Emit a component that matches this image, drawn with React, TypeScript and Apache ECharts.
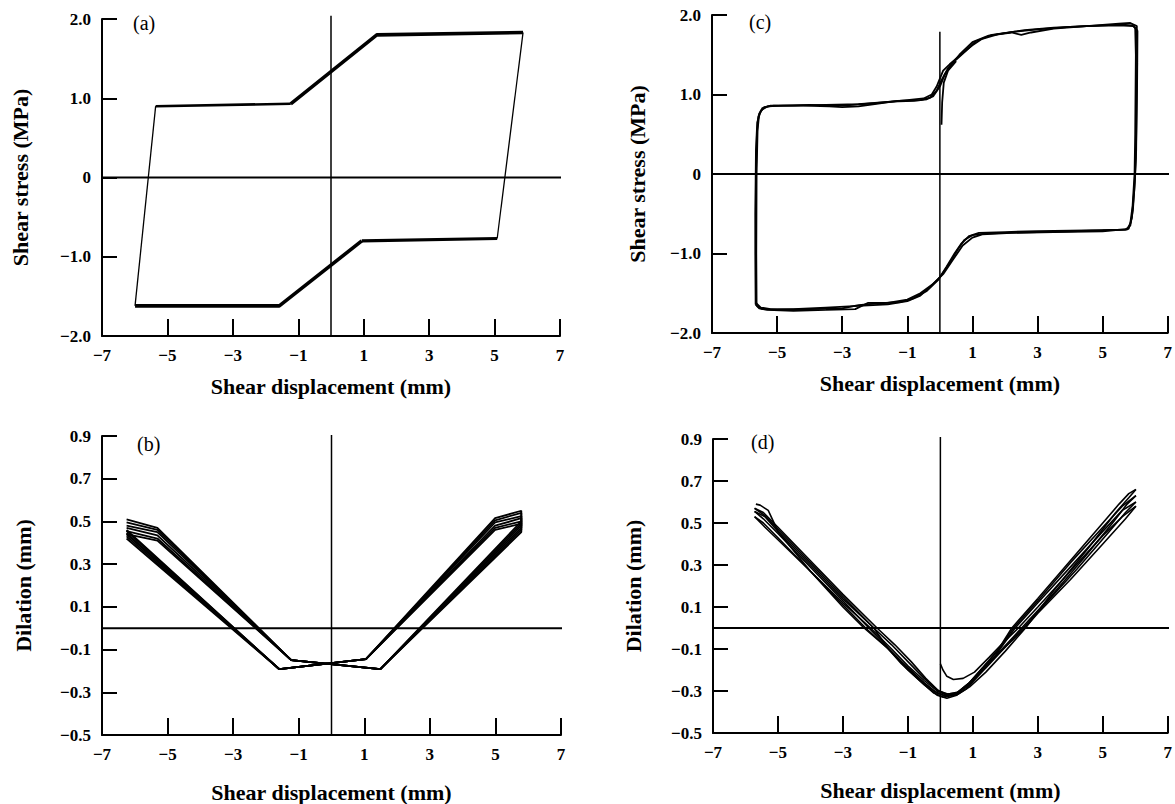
import React, { useEffect, useRef } from "react";
import * as echarts from "echarts";

// ---------- tick labels / axes ----------
const xTicks = [-7, -5, -3, -1, 1, 3, 5, 7];
const stressTicks = [-2, -1, 0, 1, 2];
const dilationTicks = [-0.5, -0.3, -0.1, 0.1, 0.3, 0.5, 0.7, 0.9];
const panelLabels = ["(a)", "(c)", "(b)", "(d)"];
const xName = "Shear displacement (mm)";
const stressName = "Shear stress (MPa)";
const dilationName = "Dilation (mm)";

// ---------- panel (a): idealised stress loop ----------
const aUpperLeft = [[-5.36, 0.9], [-1.23, 0.93]];
const aUpperRight = [[-1.23, 0.93], [1.4, 1.8], [5.87, 1.83]];
const aRightReversal = [[5.87, 1.83], [5.08, -0.77]];
const aLowerRight = [[5.08, -0.77], [0.94, -0.8]];
const aLowerLeft = [[0.94, -0.8], [-1.58, -1.62], [-5.99, -1.62]];
const aLeftReversal = [[-5.99, -1.62], [-5.36, 0.9]];

// ---------- panel (c): measured stress loops ----------
const cInitial = [[0.05, 0.62], [0.07, 0.9], [0.12, 1.15], [0.25, 1.3], [0.5, 1.42]];
const cLoop1 = [[-5.65,-1.62],[-5.66,-1.0],[-5.65,0.0],[-5.62,0.5],[-5.58,0.72],[-5.45,0.83],[-5.2,0.86],[-4.5,0.86],[-3.5,0.87],[-2.5,0.88],[-1.5,0.91],[-0.8,0.92],[-0.4,0.94],[-0.2,0.98],[0.0,1.1],[0.15,1.25],[0.4,1.4],[0.8,1.55],[1.1,1.67],[1.6,1.75],[2.3,1.79],[3.0,1.82],[4.0,1.85],[5.0,1.87],[5.6,1.88],[5.9,1.87],[6.0,1.84],[6.02,1.5],[6.0,0.5],[5.98,0.0],[5.92,-0.4],[5.85,-0.62],[5.75,-0.7],[5.0,-0.71],[4.0,-0.72],[3.0,-0.73],[2.0,-0.74],[1.4,-0.75],[1.0,-0.77],[0.75,-0.83],[0.55,-0.95],[0.3,-1.12],[0.0,-1.3],[-0.3,-1.42],[-0.6,-1.53],[-1.0,-1.6],[-1.6,-1.64],[-2.5,-1.66],[-3.5,-1.68],[-4.5,-1.7],[-5.2,-1.7],[-5.5,-1.68],[-5.65,-1.62]];
const cLoop2 = [[-5.63,-1.66],[-5.64,-1.0],[-5.63,0.0],[-5.6,0.55],[-5.55,0.76],[-5.4,0.84],[-5.1,0.86],[-4.2,0.86],[-3.4,0.85],[-3.0,0.84],[-2.5,0.85],[-2.0,0.88],[-1.3,0.92],[-0.6,0.93],[-0.3,0.96],[-0.1,1.05],[0.05,1.18],[0.25,1.33],[0.6,1.5],[1.0,1.66],[1.5,1.74],[2.2,1.78],[2.5,1.75],[2.8,1.78],[3.5,1.83],[4.5,1.86],[5.5,1.89],[5.85,1.9],[6.05,1.86],[6.06,1.4],[6.03,0.3],[5.99,-0.1],[5.93,-0.45],[5.85,-0.65],[5.7,-0.7],[4.5,-0.71],[3.0,-0.72],[2.0,-0.73],[1.2,-0.74],[0.9,-0.78],[0.65,-0.88],[0.45,-1.0],[0.2,-1.17],[-0.05,-1.33],[-0.4,-1.47],[-0.8,-1.56],[-1.2,-1.61],[-2.0,-1.63],[-2.5,-1.65],[-3.0,-1.69],[-4.0,-1.7],[-5.0,-1.71],[-5.45,-1.7],[-5.63,-1.66]];
const cLoop3 = [[-5.66,-1.64],[-5.67,-0.5],[-5.65,0.3],[-5.61,0.65],[-5.5,0.8],[-5.3,0.85],[-4.8,0.86],[-4.0,0.87],[-3.0,0.86],[-2.0,0.89],[-1.0,0.93],[-0.5,0.95],[-0.25,1.0],[-0.1,1.1],[0.1,1.3],[0.3,1.38],[0.7,1.52],[1.0,1.62],[1.3,1.7],[1.8,1.76],[2.6,1.81],[3.5,1.84],[4.5,1.86],[5.5,1.87],[5.95,1.86],[6.07,1.8],[6.06,1.2],[6.02,0.2],[5.97,-0.2],[5.9,-0.55],[5.8,-0.69],[5.0,-0.72],[3.5,-0.73],[2.2,-0.74],[1.3,-0.76],[1.0,-0.8],[0.7,-0.9],[0.4,-1.08],[0.1,-1.26],[-0.2,-1.38],[-0.6,-1.5],[-1.0,-1.58],[-1.6,-1.62],[-2.2,-1.62],[-2.6,-1.7],[-3.5,-1.71],[-4.5,-1.72],[-5.3,-1.71],[-5.55,-1.69],[-5.66,-1.64]];

// ---------- panel (b): idealised dilation cycles ----------
// each cycle: path A (left end -> right end) then path B (right end -> left end)
const bCycle1 = [[-6.25,0.42],[-1.59,-0.192],[1.05,-0.145],[4.99,0.46],[5.79,0.49],[5.79,0.45],[1.49,-0.192],[-1.23,-0.149],[-5.31,0.41],[-6.25,0.44]];
const bCycle2 = [[-6.25,0.43],[-1.59,-0.192],[1.05,-0.145],[4.99,0.47],[5.79,0.5],[5.79,0.46],[1.49,-0.192],[-1.23,-0.149],[-5.31,0.42],[-6.25,0.455]];
const bCycle3 = [[-6.25,0.44],[-1.59,-0.192],[1.05,-0.145],[4.99,0.48],[5.79,0.515],[5.79,0.47],[1.49,-0.192],[-1.23,-0.149],[-5.31,0.435],[-6.25,0.47]];
const bCycle4 = [[-6.25,0.445],[-1.59,-0.192],[1.05,-0.145],[4.99,0.495],[5.79,0.525],[5.79,0.48],[1.49,-0.192],[-1.23,-0.149],[-5.31,0.45],[-6.25,0.48]];
const bCycle5 = [[-6.25,0.455],[-1.59,-0.192],[1.05,-0.145],[4.99,0.505],[5.79,0.54],[5.79,0.49],[1.49,-0.192],[-1.23,-0.149],[-5.31,0.46],[-6.25,0.495]];
const bCycle6 = [[-6.25,0.46],[-1.59,-0.192],[1.05,-0.145],[4.99,0.515],[5.79,0.55],[5.79,0.5],[1.49,-0.192],[-1.23,-0.149],[-5.31,0.47],[-6.25,0.51]];

// ---------- panel (d): measured dilation cycles ----------
const dInitial = [[0.0,-0.17],[0.08,-0.2],[0.2,-0.23],[0.4,-0.245],[0.7,-0.24],[1.05,-0.21],[1.5,-0.14],[2.0,-0.06],[2.4,0.0],[3.0,0.1],[4.0,0.27],[5.0,0.44],[5.6,0.53],[6.02,0.58]];
const dBack1 = [[6.02,0.58],[5.7,0.52],[5.0,0.4],[4.0,0.23],[3.0,0.07],[2.6,0.0],[2.0,-0.09],[1.4,-0.19],[0.9,-0.27],[0.5,-0.315],[0.2,-0.325],[-0.1,-0.31],[-0.5,-0.26],[-1.0,-0.19],[-1.6,-0.1],[-2.3,0.0],[-3.0,0.11],[-4.0,0.27],[-5.0,0.42],[-5.4,0.48],[-5.72,0.53]];
const dFwd1 = [[-5.72,0.53],[-5.45,0.5],[-5.0,0.43],[-4.0,0.27],[-3.0,0.12],[-2.15,0.0],[-1.5,-0.1],[-1.0,-0.18],[-0.5,-0.25],[-0.1,-0.3],[0.2,-0.32],[0.5,-0.32],[0.8,-0.29],[1.2,-0.22],[1.7,-0.13],[2.3,0.0],[3.0,0.12],[4.0,0.29],[5.0,0.46],[5.6,0.56],[6.02,0.6]];
const dBack2 = [[6.02,0.6],[5.7,0.55],[5.2,0.46],[4.2,0.28],[3.2,0.11],[2.55,0.0],[2.0,-0.09],[1.4,-0.18],[0.9,-0.26],[0.5,-0.31],[0.15,-0.325],[-0.2,-0.3],[-0.6,-0.25],[-1.2,-0.16],[-1.7,-0.08],[-2.2,0.0],[-3.0,0.13],[-4.0,0.29],[-5.0,0.45],[-5.45,0.52],[-5.72,0.555]];
const dFwd2 = [[-5.72,0.555],[-5.4,0.53],[-5.0,0.46],[-4.0,0.3],[-3.0,0.14],[-2.05,0.0],[-1.5,-0.08],[-1.0,-0.16],[-0.5,-0.24],[-0.1,-0.295],[0.2,-0.315],[0.5,-0.31],[0.9,-0.26],[1.3,-0.19],[1.8,-0.1],[2.25,0.0],[3.0,0.13],[4.0,0.31],[5.0,0.48],[5.6,0.58],[6.02,0.63]];
const dBack3 = [[6.02,0.63],[5.75,0.59],[5.3,0.5],[4.4,0.33],[3.4,0.15],[2.5,0.0],[1.9,-0.1],[1.3,-0.2],[0.8,-0.28],[0.4,-0.32],[0.1,-0.33],[-0.2,-0.31],[-0.6,-0.255],[-1.2,-0.17],[-1.6,-0.1],[-2.05,0.0],[-3.0,0.15],[-4.0,0.31],[-5.0,0.47],[-5.4,0.535],[-5.72,0.57]];
const dFwd3 = [[-5.72,0.57],[-5.45,0.55],[-5.0,0.48],[-4.0,0.32],[-3.0,0.16],[-1.95,0.0],[-1.4,-0.08],[-0.9,-0.16],[-0.45,-0.24],[-0.05,-0.3],[0.25,-0.315],[0.55,-0.305],[0.9,-0.26],[1.3,-0.19],[1.75,-0.11],[2.2,0.0],[3.0,0.14],[4.0,0.32],[5.0,0.5],[5.5,0.59],[5.8,0.64],[6.02,0.66]];
const dBack4 = [[6.02,0.66],[5.8,0.62],[5.4,0.55],[4.5,0.37],[3.5,0.18],[2.62,0.0],[2.0,-0.11],[1.4,-0.21],[0.9,-0.28],[0.5,-0.32],[0.2,-0.335],[-0.1,-0.32],[-0.5,-0.27],[-1.0,-0.2],[-1.6,-0.1],[-2.35,0.0],[-3.0,0.1],[-4.0,0.27],[-5.0,0.46],[-5.3,0.56],[-5.55,0.585],[-5.68,0.59]];

// reference lines (zero axes drawn inside each panel)
const stressZeroLine = [[-7, 0], [7.05, 0]];
const dilationZeroLine = [[-7, 0], [7.05, 0]];
const stressVertA = [[0, -2], [0, 2.04]];
const stressVertC = [[0, -2], [0, 1.79]];
const dilationVertB = [[0, -0.5], [0, 0.905]];
const dilationVertD = [[0, -0.5], [0, 0.91]];

const SERIF = '"Liberation Serif", "DejaVu Serif", serif';
const MINUS = "\u2212";

function fmtX(v: number) {
  const r = Math.round(v);
  return r < 0 ? MINUS + Math.abs(r) : String(r);
}
function fmtStress(v: number) {
  const r = Math.round(v * 10) / 10;
  if (r === 0) return "0";
  return (r < 0 ? MINUS : "") + Math.abs(r).toFixed(1);
}
function fmtDil(v: number) {
  const r = Math.round(v * 10) / 10;
  return (r < 0 ? MINUS : "") + Math.abs(r).toFixed(1);
}

function ln(data: number[][], gi: number, width: number) {
  return {
    type: "line",
    xAxisIndex: gi,
    yAxisIndex: gi,
    data,
    showSymbol: false,
    symbol: "none",
    silent: true,
    clip: false,
    lineStyle: { color: "#000", width },
  };
}

export default function App() {
  const ref = useRef<HTMLDivElement>(null);

  useEffect(() => {
    document.body.style.margin = "0";
    const chart = echarts.init(ref.current!, null, { renderer: "svg" });

    const grids = [
      { left: 102, top: 19, width: 458, height: 317 },
      { left: 712, top: 15, width: 458, height: 318 },
      { left: 102, top: 436, width: 459, height: 299 },
      { left: 713, top: 439, width: 457, height: 294 },
    ];

    const axisLine = { show: true, onZero: false, lineStyle: { color: "#000", width: 2 } };
    const tickLabel = { fontFamily: SERIF, fontWeight: "bold", fontSize: 17, color: "#000" };
    const nameStyle = { fontFamily: SERIF, fontWeight: "bold", fontSize: 22, color: "#000" };

    const xAxes = grids.map((_, i) => ({
      type: "value",
      gridIndex: i,
      min: xTicks[0],
      max: xTicks[xTicks.length - 1],
      interval: 2,
      axisLine,
      axisTick: { show: true, inside: true, length: 17, lineStyle: { color: "#000", width: 2 } },
      axisLabel: { ...tickLabel, margin: 11, formatter: fmtX, showMinLabel: true, showMaxLabel: true },
      splitLine: { show: false },
      name: xName,
      nameLocation: "middle",
      nameGap: i < 2 ? 39 : 46,
      nameTextStyle: nameStyle,
    }));

    const yAxes = grids.map((_, i) => {
      const stress = i < 2;
      const ticks = stress ? stressTicks : dilationTicks;
      return {
        type: "value",
        gridIndex: i,
        min: ticks[0],
        max: ticks[ticks.length - 1],
        interval: stress ? 1 : 0.2,
        axisLine,
        axisTick: { show: true, inside: true, length: 15, lineStyle: { color: "#000", width: 2 } },
        axisLabel: { ...tickLabel, margin: 11, formatter: stress ? fmtStress : fmtDil, showMinLabel: true, showMaxLabel: true },
        splitLine: { show: false },
        name: stress ? stressName : dilationName,
        nameLocation: "middle",
        nameGap: [71, 64, 68, 69][i],
        nameTextStyle: nameStyle,
      };
    });

    const series: any[] = [
      // reference lines
      ln(stressZeroLine, 0, 2), ln(stressVertA, 0, 1.5),
      ln(stressZeroLine, 1, 2), ln(stressVertC, 1, 1.5),
      ln(dilationZeroLine, 2, 2), ln(dilationVertB, 2, 1.5),
      ln(dilationZeroLine, 3, 2), ln(dilationVertD, 3, 1.5),
      // (a)
      ln(aUpperLeft, 0, 2.6), ln(aUpperRight, 0, 3.6), ln(aRightReversal, 0, 1.3),
      ln(aLowerRight, 0, 3.2), ln(aLowerLeft, 0, 3.6), ln(aLeftReversal, 0, 1.3),
      // (c)
      ln(cInitial, 1, 1.8), ln(cLoop1, 1, 1.8), ln(cLoop2, 1, 1.8), ln(cLoop3, 1, 1.8),
      // (b)
      ln(bCycle1, 2, 1.8), ln(bCycle2, 2, 1.8), ln(bCycle3, 2, 1.8),
      ln(bCycle4, 2, 1.8), ln(bCycle5, 2, 1.8), ln(bCycle6, 2, 1.8),
      // (d)
      ln(dInitial, 3, 1.6), ln(dBack1, 3, 1.6), ln(dFwd1, 3, 1.6), ln(dBack2, 3, 1.6),
      ln(dFwd2, 3, 1.6), ln(dBack3, 3, 1.6), ln(dFwd3, 3, 1.6), ln(dBack4, 3, 1.6),
    ];

    const labelPos = [
      [133, 13],
      [749, 12],
      [137, 434],
      [751, 432],
    ];

    chart.setOption({
      animation: false,
      backgroundColor: "#fff",
      grid: grids,
      xAxis: xAxes,
      yAxis: yAxes,
      series,
      graphic: panelLabels.map((t, i) => ({
        type: "text",
        left: labelPos[i][0],
        top: labelPos[i][1],
        style: { text: t, font: `20px ${SERIF}`, fill: "#000" },
      })),
    });

    return () => chart.dispose();
  }, []);

  return (
    <div
      ref={ref}
      style={{ position: "absolute", left: 0, top: 0, width: 1175, height: 804, background: "#fff" }}
    />
  );
}
